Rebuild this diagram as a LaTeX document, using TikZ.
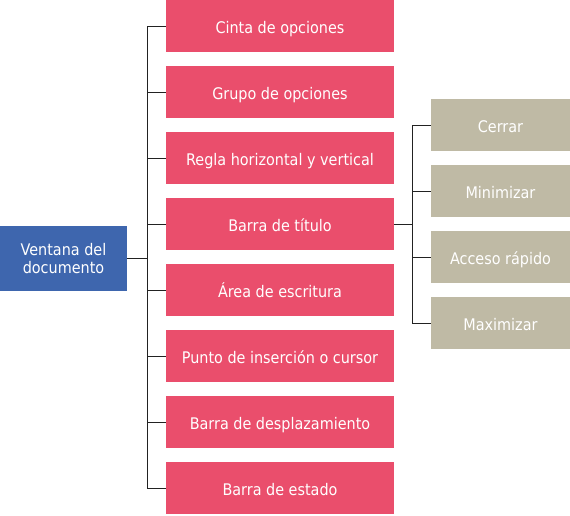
\documentclass[tikz,border=0pt]{standalone}
\usepackage{fontspec}
\setmainfont{DejaVu Sans Condensed}
\usepackage{xcolor}
\usetikzlibrary{positioning,calc}

\definecolor{azul}{HTML}{3E66AE}
\definecolor{rosa}{HTML}{EA4E6C}
\definecolor{arena}{HTML}{BFBAA5}
\definecolor{linea}{HTML}{222222}

\tikzset{
  caja/.style={fill=rosa, text=white, minimum width=228pt, minimum height=52.5pt, inner sep=0pt, text height=14.6pt, text depth=0pt, font=\fontsize{16}{18}\selectfont},
  boton/.style={fill=arena, text=white, minimum width=139pt, minimum height=52.5pt, inner sep=0pt, text height=14.6pt, text depth=0pt, font=\fontsize{16}{18}\selectfont},
  raiz/.style={fill=azul, text=white, minimum width=127pt, minimum height=65pt, inner sep=0pt, align=center, font=\fontsize{16}{18}\selectfont},
  enlace/.style={draw=linea, line width=1pt}
}

\begin{document}
\begin{tikzpicture}[x=1pt,y=-1pt]
    \useasboundingbox (0,0) rectangle (570,515);
    % raiz
    \node[raiz] (ventana) at (63.5,258.5) {Ventana del\\documento};
    % partes de la ventana
    \node[caja] (p1) at (280,26) {Cinta de opciones};
    \node[caja] (p2) at (280,92) {Grupo de opciones};
    \node[caja] (p3) at (280,158) {Regla horizontal y vertical};
    \node[caja] (p4) at (280,224) {Barra de título};
    \node[caja] (p5) at (280,290) {Área de escritura};
    \node[caja] (p6) at (280,356) {Punto de inserción o cursor};
    \node[caja] (p7) at (280,422) {Barra de desplazamiento};
    \node[caja] (p8) at (280,488) {Barra de estado};
    % botones de la barra de titulo
    \node[boton] (b1) at (500.5,125) {Cerrar};
    \node[boton] (b2) at (500.5,191) {Minimizar};
    \node[boton] (b3) at (500.5,257) {Acceso rápido};
    \node[boton] (b4) at (500.5,323) {Maximizar};
    % conectores
    \coordinate (eje) at (147,0);
    \coordinate (eje2) at (412,0);
    \draw[enlace] (ventana.east) -- (eje |- ventana.east);
    \draw[enlace] (eje |- p1.west) -- (eje |- p8.west);
    \foreach \i in {1,...,8}
        \draw[enlace] (eje |- p\i.west) -- (p\i.west);
    \draw[enlace] (p4.east) -- (eje2 |- p4.east);
    \draw[enlace] (eje2 |- b1.west) -- (eje2 |- b4.west);
    \foreach \i in {1,...,4}
        \draw[enlace] (eje2 |- b\i.west) -- (b\i.west);
\end{tikzpicture}
\end{document}
